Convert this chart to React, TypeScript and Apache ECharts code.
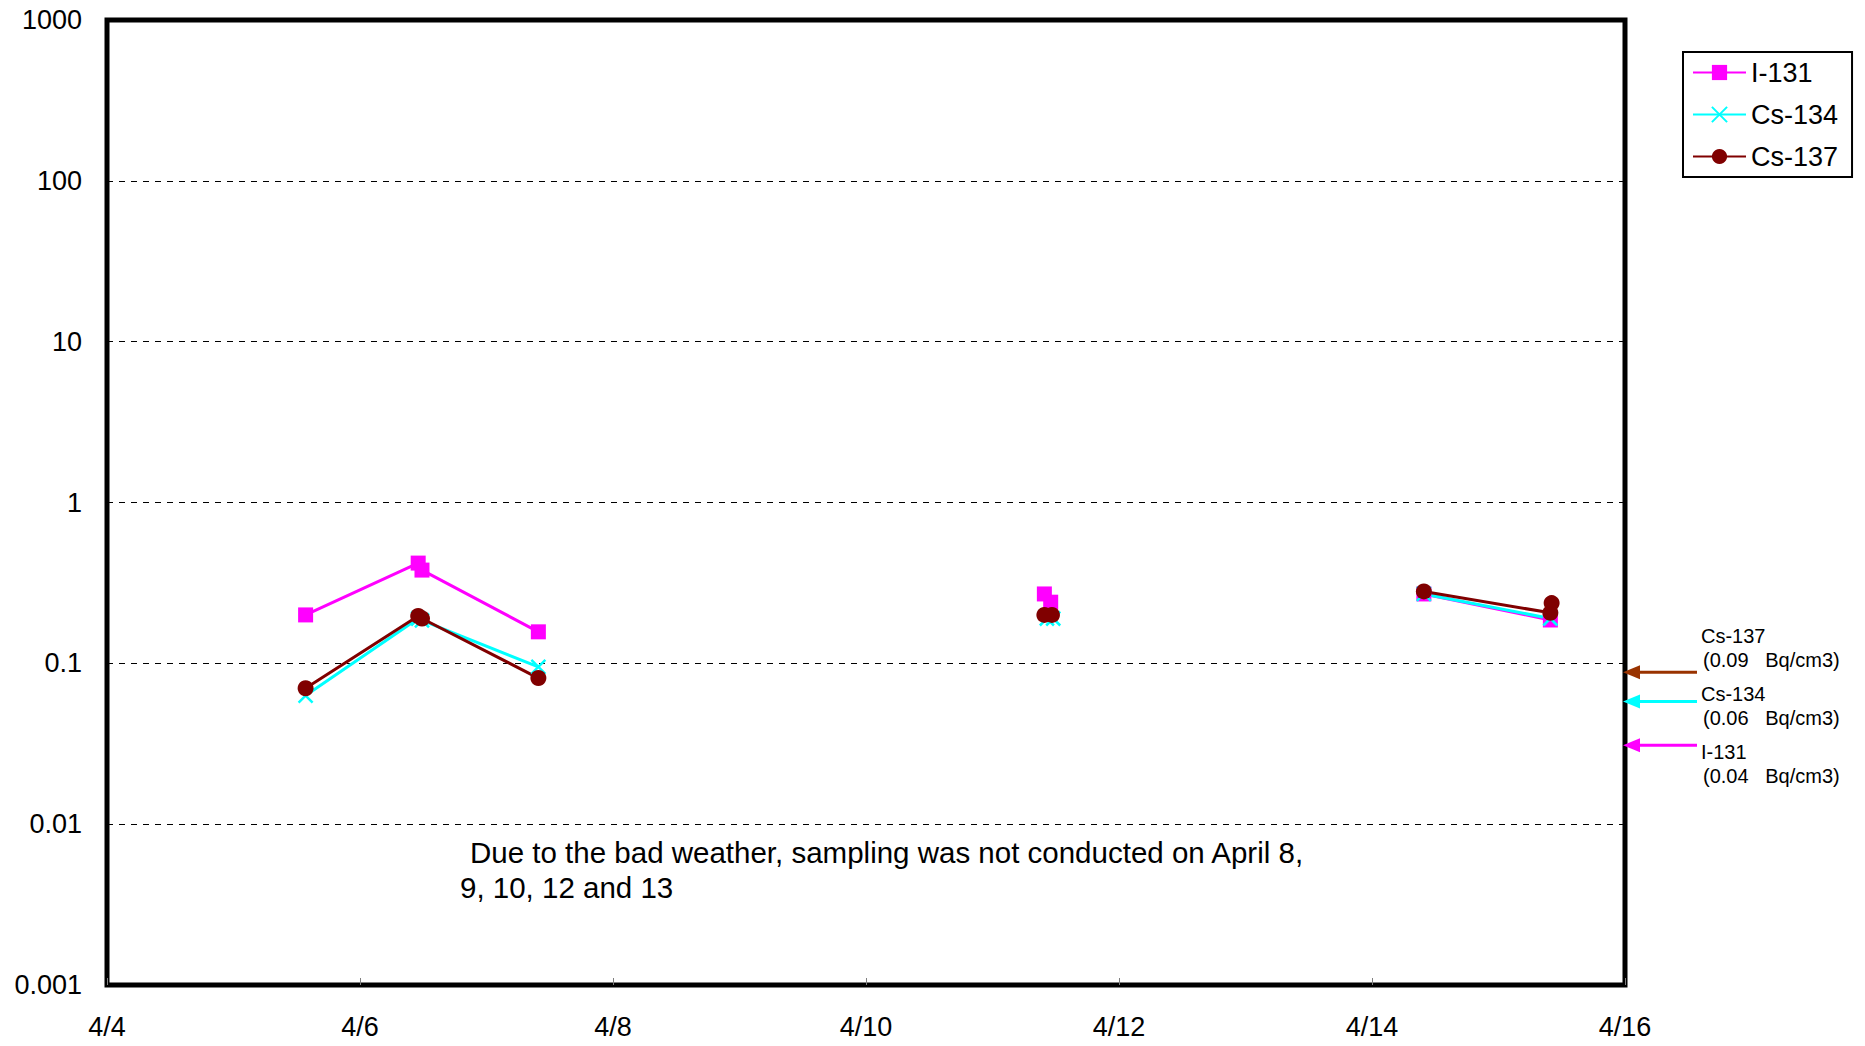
import React, { useEffect, useRef } from 'react';
import * as echarts from 'echarts';

type Pt = [number, number] | null;

// x = day of April (fractional), y = Bq/cm3 ; null = break in line
const i131: Pt[] = [[5.57, 0.2], [6.46, 0.42], [6.49, 0.38], [7.41, 0.157], null, [11.41, 0.27], [11.46, 0.24], null, [14.41, 0.27], [15.41, 0.186]];
const cs134: Pt[] = [[5.57, 0.063], [6.46, 0.19], [6.49, 0.185], [7.41, 0.095], null, [11.43, 0.19], [11.48, 0.19], null, [14.41, 0.27], [15.41, 0.19]];
const cs137: Pt[] = [[5.57, 0.07], [6.46, 0.197], [6.49, 0.19], [7.41, 0.081], null, [11.41, 0.2], [11.47, 0.2], null, [14.41, 0.28], [15.41, 0.206], [15.42, 0.237]];

const seriesNames = ['I-131', 'Cs-134', 'Cs-137'];
const seriesColors = ['#FF00FF', '#00FFFF', '#800000'];

const xMin = 4;
const xMax = 16;
const xStep = 2;
const yTickLabels = ['0.001', '0.01', '0.1', '1', '10', '100', '1000'];

const limitNames = ['Cs-137', 'Cs-134', 'I-131'];
const limitTexts = ['(0.09   Bq/cm3)', '(0.06   Bq/cm3)', '(0.04   Bq/cm3)'];
const limitArrowLevels = [0.088, 0.058, 0.031];
const limitColors = ['#993300', '#00FFFF', '#FF00FF'];

const noteLines = ['Due to the bad weather, sampling was not conducted on April 8,', '9, 10, 12 and 13'];

const FONT = '"Liberation Sans", Arial, sans-serif';

export default function App() {
  const ref = useRef<HTMLDivElement>(null);

  useEffect(() => {
    if (!ref.current) return;
    const chart = echarts.init(ref.current, undefined, { renderer: 'svg' });
    const toData = (arr: Pt[]) => arr.map((p) => (p ? p : ['-', '-']));
    const symbols = ['rect', 'path://M0,0L10,10M10,0L0,10', 'circle'];
    const sizes = [15, 14, 16];
    const datasets = [i131, cs134, cs137];

    chart.setOption({
      animation: false,
      backgroundColor: '#fff',
      grid: {
        left: 107,
        top: 20,
        width: 1518,
        height: 965,
        show: true,
        borderColor: '#000',
        borderWidth: 5,
      },
      legend: {
        data: seriesNames,
        orient: 'vertical',
        left: 1683,
        top: 52,
        padding: [7, 14, 7, 9],
        itemWidth: 53,
        itemHeight: 19,
        itemGap: 15,
        borderColor: '#000',
        borderWidth: 2,
        backgroundColor: '#fff',
        lineStyle: { width: 2 },
        textStyle: { fontSize: 27, color: '#000', fontFamily: FONT },
      },
      xAxis: {
        type: 'value',
        min: xMin,
        max: xMax,
        interval: xStep,
        axisLine: { show: false },
        axisTick: { show: true, inside: true, length: 7, lineStyle: { color: '#808080', width: 1 } },
        splitLine: { show: false },
        axisLabel: {
          fontSize: 27,
          color: '#000',
          fontFamily: FONT,
          margin: 28,
          showMinLabel: true,
          showMaxLabel: true,
          formatter: (v: number) => '4/' + v,
        },
      },
      yAxis: {
        type: 'log',
        logBase: 10,
        min: 0.001,
        max: 1000,
        splitNumber: 6,
        axisLine: { show: false },
        axisTick: { show: false },
        splitLine: { show: true, lineStyle: { color: '#000', width: 1, type: [6, 6] } },
        axisLabel: {
          fontSize: 27,
          color: '#000',
          fontFamily: FONT,
          margin: 25,
          showMinLabel: true,
          showMaxLabel: true,
          formatter: (v: number) => {
            const e = Math.round(Math.log10(v));
            return yTickLabels[e + 3] ?? '';
          },
        },
      },
      series: seriesNames.map((name, i) => ({
        name,
        type: 'line',
        data: toData(datasets[i]),
        connectNulls: false,
        symbol: symbols[i],
        symbolSize: sizes[i],
        showAllSymbol: true,
        lineStyle: { color: seriesColors[i], width: 3 },
        itemStyle:
          i === 1
            ? { color: seriesColors[i], borderColor: seriesColors[i], borderWidth: 2.5 }
            : { color: seriesColors[i], borderWidth: 0 },
        emphasis: { disabled: true },
      })),
    });

    const tipX = chart.convertToPixel({ gridIndex: 0 }, [xMax, 1])[0] as number;
    const graphics: any[] = [];
    limitArrowLevels.forEach((v, i) => {
      const y = chart.convertToPixel({ gridIndex: 0 }, [xMax, v])[1] as number;
      graphics.push({
        type: 'line',
        shape: { x1: tipX + 12, y1: y, x2: tipX + 72, y2: y },
        style: { stroke: limitColors[i], lineWidth: 3 },
        z: 100,
      });
      graphics.push({
        type: 'polygon',
        shape: { points: [[tipX - 2, y], [tipX + 15, y - 7], [tipX + 15, y + 7]] },
        style: { fill: limitColors[i] },
        z: 100,
      });
    });
    const nameY = [636, 694, 752];
    const valY = [660, 718, 776];
    limitNames.forEach((n, i) => {
      graphics.push({
        type: 'text',
        x: 1701,
        y: nameY[i],
        style: { text: n, fontSize: 20, fill: '#000', fontFamily: FONT, verticalAlign: 'middle', align: 'left' },
      });
      graphics.push({
        type: 'text',
        x: 1703,
        y: valY[i],
        style: { text: limitTexts[i], fontSize: 20, fill: '#000', fontFamily: FONT, verticalAlign: 'middle', align: 'left' },
      });
    });
    graphics.push({
      type: 'text',
      x: 470,
      y: 852,
      style: { text: noteLines[0], fontSize: 29.5, fill: '#000', fontFamily: FONT, verticalAlign: 'middle', align: 'left' },
    });
    graphics.push({
      type: 'text',
      x: 460,
      y: 887,
      style: { text: noteLines[1], fontSize: 29.5, fill: '#000', fontFamily: FONT, verticalAlign: 'middle', align: 'left' },
    });
    chart.setOption({ graphic: graphics });

    return () => chart.dispose();
  }, []);

  return <div ref={ref} style={{ position: 'fixed', left: 0, top: 0, width: 1865, height: 1046 }} />;
}
